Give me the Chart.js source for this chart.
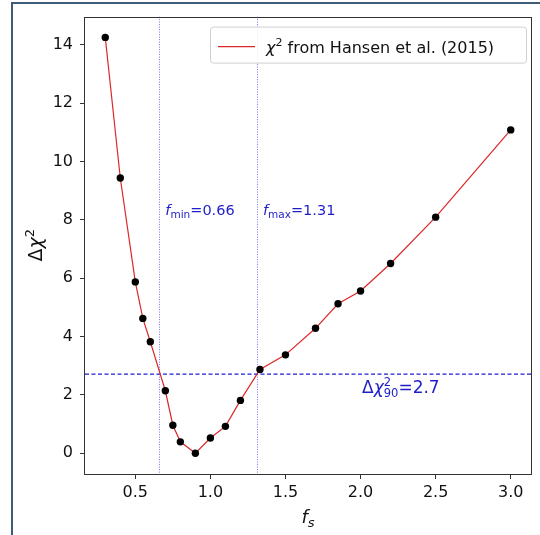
<!DOCTYPE html>
<html>
<head>
<meta charset="utf-8">
<script src="https://cdn.jsdelivr.net/npm/chart.js@4/dist/chart.umd.min.js"></script>
<style>
  html, body { margin: 0; padding: 0; background: #fff; }
</style>
</head>
<body>
<canvas id="chi2Chart" width="540" height="535"></canvas>
<script>
// values
var fs    = [0.3, 0.4, 0.5, 0.55, 0.6, 0.7, 0.75, 0.8, 0.9, 1.0, 1.1, 1.2, 1.33, 1.5, 1.7, 1.85, 2.0, 2.2, 2.5, 3.0];
var dchi2 = [14.25, 9.43, 5.87, 4.62, 3.82, 2.14, 0.96, 0.39, 0.0, 0.52, 0.92, 1.81, 2.87, 3.37, 4.28, 5.12, 5.56, 6.5, 8.09, 11.08];
var fMin = 0.66, fMax = 1.31, chi90 = 2.71;
var xTicks = [0.5, 1.0, 1.5, 2.0, 2.5, 3.0];
var yTicks = [0, 2, 4, 6, 8, 10, 12, 14];

var FONT = '"DejaVu Sans", sans-serif';
var BLUE = '#1f1fc8';

// draw a row of text pieces (for sub / superscripts)
function drawRuns(ctx, x, y, runs, color, align) {
    ctx.save();
    ctx.fillStyle = color;
    ctx.textBaseline = 'alphabetic';
    ctx.textAlign = 'left';
    if (align === 'center') {
        var w = 0;
        runs.forEach(function (r) {
            ctx.font = (r.i ? 'italic ' : '') + r.s + 'px ' + FONT;
            if (!r.stay) w += ctx.measureText(r.t).width;
        });
        x -= w / 2;
    }
    runs.forEach(function (r) {
        ctx.font = (r.i ? 'italic ' : '') + r.s + 'px ' + FONT;
        ctx.fillText(r.t, x, y + (r.dy || 0));
        if (!r.stay) x += ctx.measureText(r.t).width;
    });
    ctx.restore();
}

var extras = {
    id: 'extras',
    beforeDatasetsDraw: function (chart) {
        var ctx = chart.ctx, a = chart.chartArea;
        var xs = chart.scales.x, ys = chart.scales.y;
        ctx.save();
        ctx.beginPath();
        ctx.rect(a.left, a.top, a.right - a.left, a.bottom - a.top);
        ctx.clip();
        // vertical dotted lines
        ctx.strokeStyle = 'rgba(70,70,255,0.75)';
        ctx.lineWidth = 1;
        ctx.setLineDash([1, 1.5]);
        [fMin, fMax].forEach(function (v) {
            var px = Math.round(xs.getPixelForValue(v)) + 0.5;
            ctx.beginPath();
            ctx.moveTo(px, a.top);
            ctx.lineTo(px, a.bottom);
            ctx.stroke();
        });
        // horizontal dashed line
        ctx.strokeStyle = '#2020d0';
        ctx.lineWidth = 1.2;
        ctx.setLineDash([4, 2.5]);
        var py = ys.getPixelForValue(chi90);
        ctx.beginPath();
        ctx.moveTo(a.left, py);
        ctx.lineTo(a.right, py);
        ctx.stroke();
        ctx.restore();
    },
    afterDraw: function (chart) {
        var ctx = chart.ctx, a = chart.chartArea;
        var xs = chart.scales.x, ys = chart.scales.y;

        // outer frame (left and top edge of the picture)
        ctx.save();
        ctx.strokeStyle = '#3e5b77';
        ctx.lineWidth = 2;
        ctx.beginPath();
        ctx.moveTo(12, 535);
        ctx.lineTo(12, 3);
        ctx.lineTo(540, 3);
        ctx.stroke();

        // axes box
        ctx.strokeStyle = '#333';
        ctx.lineWidth = 1;
        ctx.strokeRect(Math.round(a.left) - 0.5, Math.round(a.top) + 0.5,
            Math.round(a.right - a.left) + 1, Math.round(a.bottom - a.top));
        ctx.restore();

        // annotations
        drawRuns(ctx, xs.getPixelForValue(fMin) + 6, ys.getPixelForValue(8.15), [
            { t: 'f', s: 14.5, i: true },
            { t: 'min', s: 10.5, dy: 3 },
            { t: '=0.66', s: 14.5 }
        ], BLUE);
        drawRuns(ctx, xs.getPixelForValue(fMax) + 6, ys.getPixelForValue(8.15), [
            { t: 'f', s: 14.5, i: true },
            { t: 'max', s: 10.5, dy: 3 },
            { t: '=1.31', s: 14.5 }
        ], BLUE);
        drawRuns(ctx, xs.getPixelForValue(2.01), ys.getPixelForValue(2.05), [
            { t: '\u0394', s: 17 },
            { t: '\u03c7', s: 17, i: true },
            { t: '2', s: 11.5, dy: -7, stay: true },
            { t: '90', s: 11.5, dy: 4 },
            { t: '=2.7', s: 17 }
        ], BLUE);

        // legend
        var lx = a.right - 321, ly = a.top + 10, lw = 316, lh = 36;
        ctx.save();
        ctx.fillStyle = 'rgba(255,255,255,0.85)';
        ctx.strokeStyle = '#d0d0d0';
        ctx.lineWidth = 1;
        ctx.beginPath();
        ctx.roundRect(lx + 0.5, ly + 0.5, lw, lh, 3);
        ctx.fill();
        ctx.stroke();
        ctx.strokeStyle = 'rgb(220,40,40)';
        ctx.lineWidth = 1.2;
        ctx.beginPath();
        ctx.moveTo(lx + 8, ly + 20);
        ctx.lineTo(lx + 45, ly + 20);
        ctx.stroke();
        ctx.restore();
        drawRuns(ctx, lx + 56, ly + 26, [
            { t: '\u03c7', s: 16, i: true },
            { t: '2', s: 11, dy: -7 },
            { t: ' from Hansen et al. (2015)', s: 16 }
        ], '#111');

        // axis titles
        drawRuns(ctx, (a.left + a.right) / 2, 523, [
            { t: 'f', s: 18, i: true },
            { t: 's', s: 13, i: true, dy: 4 }
        ], '#111', 'center');
        ctx.save();
        ctx.translate(42, (a.top + a.bottom) / 2);
        ctx.rotate(-Math.PI / 2);
        drawRuns(ctx, 0, 0, [
            { t: '\u0394', s: 19 },
            { t: '\u03c7', s: 19, i: true },
            { t: '2', s: 13, dy: -8 }
        ], '#111', 'center');
        ctx.restore();
    }
};

var ctx = document.getElementById('chi2Chart');
new Chart(ctx, {
    type: 'scatter',
    data: {
        datasets: [{
            data: fs.map(function (f, i) { return { x: f, y: dchi2[i] }; }),
            showLine: true,
            borderColor: 'rgb(220,40,40)',
            borderWidth: 1.2,
            pointRadius: 3.7,
            pointBackgroundColor: '#000',
            pointBorderWidth: 0,
            pointHoverRadius: 3.7
        }]
    },
    options: {
        responsive: false,
        animation: false,
        layout: { padding: { left: 0, right: 9, top: 14, bottom: 0 } },
        plugins: {
            legend: { display: false },
            tooltip: { enabled: false }
        },
        scales: {
            x: {
                type: 'linear',
                min: 0.165,
                max: 3.135,
                afterBuildTicks: function (s) { s.ticks = xTicks.map(function (v) { return { value: v }; }); },
                afterFit: function (s) { s.height = 61; },
                ticks: {
                    autoSkip: false,
                    maxRotation: 0,
                    padding: 4,
                    color: '#111',
                    font: { family: FONT, size: 16 },
                    callback: function (v) { return v.toFixed(1); }
                },
                grid: { drawOnChartArea: false, drawTicks: true, tickLength: 5, color: '#333' },
                border: { display: false }
            },
            y: {
                min: -0.7125,
                max: 14.9625,
                afterBuildTicks: function (s) { s.ticks = yTicks.map(function (v) { return { value: v }; }); },
                afterFit: function (s) { s.width = 85; },
                ticks: {
                    autoSkip: false,
                    padding: 7,
                    color: '#111',
                    font: { family: FONT, size: 16 },
                    callback: function (v) { return String(v); }
                },
                grid: { drawOnChartArea: false, drawTicks: true, tickLength: 5, color: '#333' },
                border: { display: false }
            }
        }
    },
    plugins: [extras]
});
</script>
</body>
</html>
